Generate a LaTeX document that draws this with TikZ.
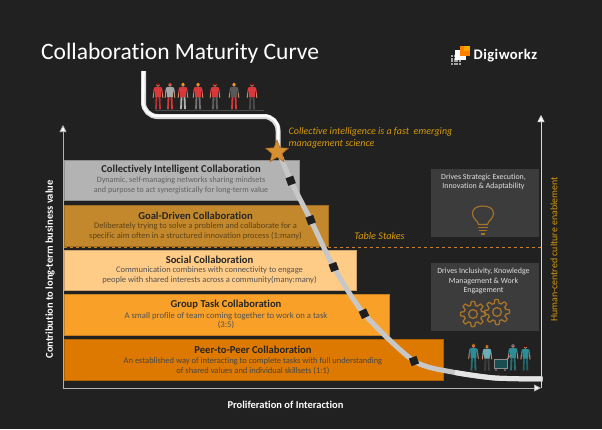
\documentclass[tikz,border=0pt]{standalone}
\usepackage{fontspec}
\setmainfont[Ligatures=NoCommon]{Carlito}
\usetikzlibrary{arrows.meta,shapes.geometric}
\definecolor{bgc}{HTML}{212121}
\definecolor{amberc}{HTML}{D69A0C}
\definecolor{iconc}{HTML}{A9742A}
\definecolor{dashc}{HTML}{C8802A}
\definecolor{panelc}{HTML}{3C3C3C}
\definecolor{redc}{HTML}{D8383A}
\definecolor{tealc}{HTML}{2E8C96}
\definecolor{skinc}{HTML}{C98A68}
\definecolor{tierfive}{HTML}{B3B3B3}
\definecolor{tierfour}{HTML}{C4882C}
\definecolor{tierthree}{HTML}{FFCC88}
\definecolor{tiertwo}{HTML}{F8A028}
\definecolor{tierone}{HTML}{DD7800}
\definecolor{starc}{HTML}{D69030}
\definecolor{stard}{HTML}{AA641E}
\definecolor{browntext}{HTML}{5C4318}
\tikzset{
  x=1pt,y=-1pt,
  tier/.style={draw=#1!80!black,fill=#1,line width=.6pt,anchor=north west,inner sep=0pt},
  tiertitle/.style={font=\fontsize{10.6}{12}\selectfont\bfseries,text=#1,anchor=center,inner sep=0pt},
  tiertext/.style={text=#1,align=center,anchor=center,inner sep=0pt},
  marker/.style={fill=black!88,minimum size=8pt,inner sep=0pt,rotate=#1},
  axisline/.style={draw=#1,line width=.8pt,-{Triangle[width=7pt,length=7pt,fill=white]}},
  panel/.style={fill=panelc,anchor=north west,inner sep=0pt},
  paneltext/.style={font=\fontsize{7.9}{9.4}\selectfont,text=white!88!black,align=center,inner sep=0pt},
  amber/.style={text=amberc,inner sep=0pt},
  axislabel/.style={font=\fontsize{10.5}{11}\selectfont\bfseries,text=white,inner sep=0pt},
}
\newcommand{\tierfont}[1]{\fontsize{#1}{9.7}\selectfont}
\newcommand{\personfig}[6]{% x, feet y, top colour, leg colour, hair, scale
  \begin{scope}[shift={(#1,#2)},scale=#6]
    \draw[#3,line width=1.3pt,line cap=round] (-3.4,-22) -- (-4.3,-17) (3.4,-22) -- (4.3,-17);
    \draw[skinc,line width=1pt,line cap=round] (-4.3,-16.5) -- (-4.8,-12.5) (4.3,-16.5) -- (4.8,-12.5);
    \draw[#4,line width=1.8pt] (-1.5,-13.5) -- (-2,-.8) (1.5,-13.5) -- (2,-.8);
    \fill[#3] (-3.2,-23) -- (3.2,-23) -- (2.8,-13) -- (-2.8,-13) -- cycle;
    \fill[black!80] (-3.4,-.9) rectangle (-.9,0) (.9,-.9) rectangle (3.4,0);
    \fill[skinc] (0,-25) circle (1.8);
    \fill[#5] (0,-26) circle (1.5);
  \end{scope}}
\newcommand{\gearfig}[3]{% x, y, phase
  \draw[iconc,line width=1.3pt,line join=round] plot[smooth,samples=145,domain=0:360] ({#1+(10.8+1.8*max(-1,min(1,2*cos(8*\x+#3))))*cos(\x)},{#2+(10.8+1.8*max(-1,min(1,2*cos(8*\x+#3))))*sin(\x)}) -- cycle;
  \draw[iconc,line width=1.3pt] (#1,#2) circle (4.4);}
\begin{document}
\begin{tikzpicture}
\path[use as bounding box,fill=bgc] (0,0) rectangle (602,429);

% title and logo
\node[anchor=west,inner sep=0pt,text=white,font=\fontsize{23.5}{28}\selectfont] (title) at (41,53) {Collaboration Maturity Curve};
\foreach \i in {0,...,3}\foreach \j in {0,...,3}{\fill[gray!70] (451+\i*2.6,55+\j*2.6) rectangle +(1.9,1.9);}
\fill[white] (455,50) rectangle (466,60);
\fill[orange] (460,45.5) rectangle (470,55.5);
\fill[orange!70!yellow] (464,45.5) rectangle (470,51);
\node[anchor=west,inner sep=0pt,text=white,font=\fontsize{14.6}{16}\selectfont\bfseries] (logo) at (473.5,55.5) {\addfontfeature{LetterSpace=3}Digiworkz};

% tiers
\node[tier=tierfive,minimum width=235.5pt,minimum height=40.5pt] (t5) at (63.5,159.5) {};
\node[tier=tierfour,minimum width=264.5pt,minimum height=40.5pt] (t4) at (63.5,205) {};
\node[tier=tierthree,minimum width=292pt,minimum height=40pt] (t3) at (63.5,250) {};
\node[tier=tiertwo,minimum width=325.5pt,minimum height=41pt] (t2) at (63.5,294) {};
\node[tier=tierone,minimum width=379.5pt,minimum height=41pt] (t1) at (63.5,339) {};

\node[tiertitle=black!85] at (181,170) {Collectively Intelligent Collaboration};
\node[tiertext=black!62,font=\tierfont{8.1}] at (181,185.5) {Dynamic, self-managing networks sharing mindsets\\and purpose to act synergistically for long-term value};
\node[tiertitle=black!85] at (195.5,216) {Goal-Driven Collaboration};
\node[tiertext=browntext,font=\tierfont{8.5}] at (195.5,231.5) {Deliberately trying to solve a problem and collaborate for a\\specific aim often in a structured innovation process (1:many)};
\node[tiertitle=black!85] at (209.5,260) {Social Collaboration};
\node[tiertext=black!68,font=\tierfont{8.5}] at (209.5,275.5) {Communication combines with connectivity to engage\\people with shared interests across a community(many:many)};
\node[tiertitle=black!85] at (226,305) {Group Task Collaboration};
\node[tiertext=black!68,font=\tierfont{8.7}] at (226,320.5) {A small profile of team coming together to work on a task\\(3:5)};
\node[tiertitle=black!85] at (253,350) {Peer-to-Peer Collaboration};
\node[tiertext=black!72,font=\tierfont{8.5}] at (253,366) {An established way of interacting to complete tasks with full understanding\\of shared values and individual skillsets (1:1)};

% table stakes
\coordinate (ds) at (63.5,247.5);
\coordinate (de) at (541,247.5);
\draw[dashc,line width=1pt,dash pattern=on 3.5pt off 2.5pt] (ds) -- (de);
\node[amber,font=\fontsize{10.2}{11}\selectfont\itshape] (stakes) at (379.5,236) {Table Stakes};

% axes
\coordinate (o) at (63,388);
\coordinate (ytop) at (63,125);
\coordinate (xend) at (541,388);
\coordinate (ztop) at (541,115);
\draw[axisline=white!70!black] (o) -- (ytop);
\draw[axisline=white!70!black] (o) -- (xend);
\draw[axisline=white!85!black] (xend) -- (ztop);
\node[axislabel,rotate=90] (ylab) at (50,269.5) {Contribution to long-term business value};
\node[axislabel] (xlab) at (285.5,404.5) {Proliferation of Interaction};
\node[amber,rotate=90,font=\fontsize{9.9}{11}\selectfont] (zlab) at (554,249.5) {Human-centred culture enablement};

% curve
\coordinate (c0) at (278,150);
\coordinate (c1) at (290.7,180.7);
\coordinate (c2) at (310.7,220);
\coordinate (c3) at (333.7,267);
\coordinate (c4) at (364,313.7);
\coordinate (c5) at (414,361);
\coordinate (c6) at (455,372.5);
\coordinate (c7) at (495,378);
\coordinate (c8) at (542.5,379);
\coordinate (top) at (143.5,71);
\draw[black!22,line width=5pt] plot[smooth,tension=.45] coordinates {(c0)(c1)(c2)(c3)(c4)(c5)(c6)(c7)(c8)};
\draw[black!10,line width=5pt] plot[smooth,tension=.45] coordinates {(c6)(c7)(c8)};
\draw[black!15,line width=5pt,rounded corners=14pt] (top) -- (143.5,116.5) -- (278,116.5) -- (c0);
\draw[white,line width=2.6pt,rounded corners=14pt] (top) -- (142.9,115.8) -- (278.6,115.8) -- (c0);
\node[marker=20] (m1) at (c1) {};
\node[marker=20] (m2) at (c2) {};
\node[marker=20] (m3) at (c3) {};
\node[marker=25] (m4) at (c4) {};
\node[marker=20] (m5) at (c5) {};
\node[star,star points=5,star point ratio=2.3,minimum size=24pt,inner sep=0pt,fill=starc,draw=stard,line width=.5pt] (star) at (277,152) {};

\node[amber,anchor=west,align=left,font=\fontsize{10}{12.2}\selectfont\itshape] (note) at (288.5,138) {Collective intelligence is a fast\ \ emerging\\management science};

% people at the top
\fill[black!70] (155,109.5) rectangle (263.5,111);
\personfig{158}{110}{redc}{redc!85!black}{red!50!black}{1}
\personfig{170}{110}{black!35}{redc}{redc}{1}
\personfig{183}{110}{redc}{black!30}{orange!80!yellow}{1}
\personfig{198}{110}{redc}{black!55}{orange!90!yellow}{1}
\personfig{215}{110}{redc}{black!62}{red!50!black}{1}
\personfig{234}{110}{black!65}{redc}{orange!80!yellow}{1}
\personfig{252}{110}{redc}{black!70}{red!40!black}{1}

% panels
\node[panel,minimum width=108pt,minimum height=67.5pt] (p1) at (431,169) {};
\node[paneltext] at (483.5,182) {Drives Strategic Execution,\\Innovation \& Adaptability};
\node[panel,minimum width=108pt,minimum height=68pt] (p2) at (431,263) {};
\node[paneltext] at (483.5,281) {Drives Inclusivity, Knowledge\\Management \& Work\\Engagement};

% bulb
\draw[iconc,line width=1.1pt] (478.5,224.5) .. controls (478,220.5) and (472.5,219) .. (472.5,213.5) .. controls (472.5,208.5) and (477,206) .. (483,206) .. controls (489,206) and (493.5,208.5) .. (493.5,213.5) .. controls (493.5,219) and (488,220.5) .. (487.5,224.5) -- cycle;
\draw[iconc,line width=1pt] (478,227.5) -- (488,227.5) (479,230.5) -- (487,230.5);
\fill[iconc] (481,232.5) rectangle (485,235);

% gears
\gearfig{473}{314}{0}
\gearfig{497}{312}{15}

% people at the bottom
\personfig{473.5}{371}{tealc}{tealc!80!black}{orange!80!black}{1}
\personfig{487}{371}{tealc!70!white}{black!75}{orange!80!black}{.96}
\personfig{513}{371}{tealc}{tealc!80!black}{black!60}{1}
\personfig{525.5}{371}{tealc}{tealc!70!black}{red!30!black}{.95}
\draw[black!45,line width=1pt,fill=tealc!55!black] (494,359) rectangle (507,368);
\draw[black!45,line width=1pt] (507,359) -- (511,355);
\fill[black!55] (496,370) circle (1.2) (505,370) circle (1.2);
\end{tikzpicture}
\end{document}
